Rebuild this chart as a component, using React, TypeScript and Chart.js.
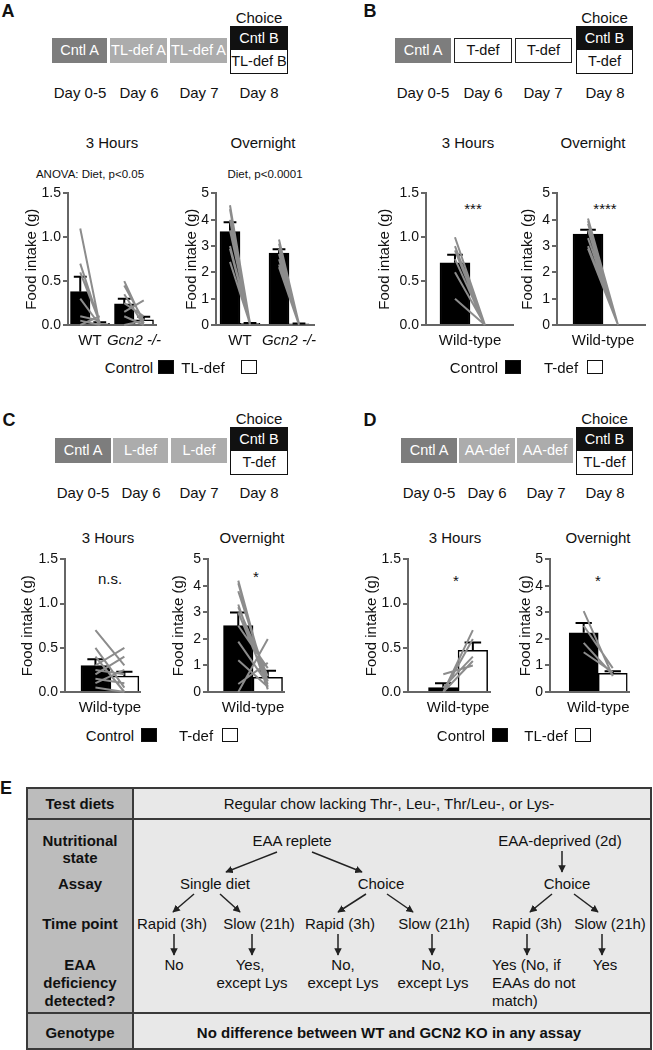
import React, { useEffect, useRef } from 'react';
import { Chart, registerables } from 'chart.js';

Chart.register(...registerables);
Chart.defaults.font.family = "'Liberation Sans', Arial, Helvetica, sans-serif";
Chart.defaults.color = '#111';

// ---------------- data ----------------
const GENOTYPES = ['WT', 'Gcn2 -/-'];
const WILD = ['Wild-type'];
const Y_TICKS_3H = [0, 0.5, 1.0, 1.5];
const Y_TICKS_ON = [0, 1, 2, 3, 4, 5];

// A — 3 hours (Control vs TL-def)
const A3_CTRL = [0.38, 0.24];
const A3_CTRL_SEM = [0.17, 0.06];
const A3_DEF = [0.02, 0.06];
const A3_DEF_SEM = [0.01, 0.035];
const A3_WT_CTRL = [1.1, 0.7, 0.6, 0.3, 0.1, 0.05, 0.0];
const A3_WT_DEF = [0.0, 0.02, 0.03, 0.0, 0.05, 0.0, 0.1];
const A3_KO_CTRL = [0.5, 0.45, 0.35, 0.25, 0.15, 0.1, 0.0];
const A3_KO_DEF = [0.02, 0.05, 0.0, 0.1, 0.28, 0.0, 0.05];

// A — overnight
const AON_CTRL = [3.55, 2.73];
const AON_CTRL_SEM = [0.35, 0.15];
const AON_DEF = [0.06, 0.04];
const AON_DEF_SEM = [0.02, 0.02];
const AON_WT_CTRL = [4.55, 4.4, 4.0, 3.6, 3.0, 2.9, 2.4];
const AON_WT_DEF = [0.05, 0.05, 0.02, 0.1, 0.05, 0.0, 0.05];
const AON_KO_CTRL = [3.25, 3.1, 2.9, 2.7, 2.5, 2.3, 2.2];
const AON_KO_DEF = [0.03, 0.05, 0.02, 0.0, 0.05, 0.03, 0.0];

// B — Control vs T-def
const B3_CTRL = [0.71];
const B3_CTRL_SEM = [0.09];
const B3_DEF = [0.0];
const B3_DEF_SEM = [0.0];
const B3_PAIR_CTRL = [1.0, 0.9, 0.85, 0.75, 0.6, 0.3];
const B3_PAIR_DEF = [0.0, 0.0, 0.0, 0.0, 0.0, 0.0];
const BON_CTRL = [3.45];
const BON_CTRL_SEM = [0.17];
const BON_DEF = [0.0];
const BON_DEF_SEM = [0.0];
const BON_PAIR_CTRL = [4.05, 3.95, 3.85, 3.6, 3.3, 3.0, 2.9];
const BON_PAIR_DEF = [0.0, 0.0, 0.0, 0.0, 0.0, 0.0, 0.0];

// C — L-def pre-fed, Control vs T-def
const C3_CTRL = [0.3];
const C3_CTRL_SEM = [0.07];
const C3_DEF = [0.18];
const C3_DEF_SEM = [0.05];
const C3_PAIR_CTRL = [0.7, 0.5, 0.4, 0.3, 0.25, 0.2, 0.15, 0.1, 0.05];
const C3_PAIR_DEF = [0.3, 0.05, 0.0, 0.5, 0.2, 0.4, 0.1, 0.25, 0.0];
const CON_CTRL = [2.5];
const CON_CTRL_SEM = [0.5];
const CON_DEF = [0.55];
const CON_DEF_SEM = [0.25];
const CON_PAIR_CTRL = [4.2, 4.1, 3.8, 3.3, 3.2, 3.0, 2.5, 1.9, 1.2, 0.3, 0.0];
const CON_PAIR_DEF = [0.1, 0.2, 0.4, 0.1, 0.6, 0.3, 0.9, 0.3, 0.2, 1.1, 2.0];

// D — AA-def pre-fed, Control vs TL-def
const D3_CTRL = [0.05];
const D3_CTRL_SEM = [0.05];
const D3_DEF = [0.47];
const D3_DEF_SEM = [0.09];
const D3_PAIR_CTRL = [0.0, 0.0, 0.2, 0.05, 0.0];
const D3_PAIR_DEF = [0.7, 0.6, 0.3, 0.4, 0.35];
const DON_CTRL = [2.23];
const DON_CTRL_SEM = [0.37];
const DON_DEF = [0.7];
const DON_DEF_SEM = [0.08];
const DON_PAIR_CTRL = [3.05, 2.5, 1.85, 1.5];
const DON_PAIR_DEF = [0.6, 0.9, 0.65, 0.75];

// ---------------- chart component ----------------
const PAD_T = 10;
const PAD_R = 30;
const X_H = 30;
const HALF = 0.25;

type Pair = { cat: number; ctrl: number[]; def: number[] };
type Spec = {
  cats: string[];
  italicIdx: number[];
  ctrl: number[];
  ctrlSem: number[];
  def: number[];
  defSem: number[];
  pairs: Pair[];
  yTicks: number[];
  dec: number;
  catX: number[];
  xMin: number;
  xMax: number;
  left: number;
  top: number;
  yW: number;
  plotW: number;
  plotH: number;
  cap: number;
};

const SPECS: Spec[] = [
  {
    cats: GENOTYPES, italicIdx: [1], ctrl: A3_CTRL, ctrlSem: A3_CTRL_SEM, def: A3_DEF, defSem: A3_DEF_SEM,
    pairs: [{ cat: 0, ctrl: A3_WT_CTRL, def: A3_WT_DEF }, { cat: 1, ctrl: A3_KO_CTRL, def: A3_KO_DEF }],
    yTicks: Y_TICKS_3H, dec: 1, catX: [0, 1.128], xMin: -0.564, xMax: 1.692,
    left: 19, top: 193, yW: 49, plotW: 88, plotH: 132, cap: 0.165,
  },
  {
    cats: GENOTYPES, italicIdx: [1], ctrl: AON_CTRL, ctrlSem: AON_CTRL_SEM, def: AON_DEF, defSem: AON_DEF_SEM,
    pairs: [{ cat: 0, ctrl: AON_WT_CTRL, def: AON_WT_DEF }, { cat: 1, ctrl: AON_KO_CTRL, def: AON_KO_DEF }],
    yTicks: Y_TICKS_ON, dec: 0, catX: [0, 1.225], xMin: -0.6, xMax: 1.85,
    left: 179, top: 193, yW: 37, plotW: 98, plotH: 132, cap: 0.16,
  },
  {
    cats: WILD, italicIdx: [], ctrl: B3_CTRL, ctrlSem: B3_CTRL_SEM, def: B3_DEF, defSem: B3_DEF_SEM,
    pairs: [{ cat: 0, ctrl: B3_PAIR_CTRL, def: B3_PAIR_DEF }],
    yTicks: Y_TICKS_3H, dec: 1, catX: [0], xMin: -0.733, xMax: 0.717,
    left: 372, top: 193, yW: 54, plotW: 87, plotH: 132, cap: 0.13,
  },
  {
    cats: WILD, italicIdx: [], ctrl: BON_CTRL, ctrlSem: BON_CTRL_SEM, def: BON_DEF, defSem: BON_DEF_SEM,
    pairs: [{ cat: 0, ctrl: BON_PAIR_CTRL, def: BON_PAIR_DEF }],
    yTicks: Y_TICKS_ON, dec: 0, catX: [0], xMin: -0.767, xMax: 0.7,
    left: 515, top: 193, yW: 42, plotW: 88, plotH: 132, cap: 0.13,
  },
  {
    cats: WILD, italicIdx: [], ctrl: C3_CTRL, ctrlSem: C3_CTRL_SEM, def: C3_DEF, defSem: C3_DEF_SEM,
    pairs: [{ cat: 0, ctrl: C3_PAIR_CTRL, def: C3_PAIR_DEF }],
    yTicks: Y_TICKS_3H, dec: 1, catX: [0], xMin: -0.776, xMax: 0.52,
    left: 15, top: 559, yW: 50, plotW: 75, plotH: 133, cap: 0.14,
  },
  {
    cats: WILD, italicIdx: [], ctrl: CON_CTRL, ctrlSem: CON_CTRL_SEM, def: CON_DEF, defSem: CON_DEF_SEM,
    pairs: [{ cat: 0, ctrl: CON_PAIR_CTRL, def: CON_PAIR_DEF }],
    yTicks: Y_TICKS_ON, dec: 0, catX: [0], xMin: -0.763, xMax: 0.525,
    left: 166, top: 559, yW: 42, plotW: 76, plotH: 133, cap: 0.14,
  },
  {
    cats: WILD, italicIdx: [], ctrl: D3_CTRL, ctrlSem: D3_CTRL_SEM, def: D3_DEF, defSem: D3_DEF_SEM,
    pairs: [{ cat: 0, ctrl: D3_PAIR_CTRL, def: D3_PAIR_DEF }],
    yTicks: Y_TICKS_3H, dec: 1, catX: [0], xMin: -0.847, xMax: 0.54,
    left: 359, top: 559, yW: 49, plotW: 82, plotH: 133, cap: 0.14,
  },
  {
    cats: WILD, italicIdx: [], ctrl: DON_CTRL, ctrlSem: DON_CTRL_SEM, def: DON_DEF, defSem: DON_DEF_SEM,
    pairs: [{ cat: 0, ctrl: DON_PAIR_CTRL, def: DON_PAIR_DEF }],
    yTicks: Y_TICKS_ON, dec: 0, catX: [0], xMin: -0.83, xMax: 0.53,
    left: 513, top: 559, yW: 37, plotW: 79, plotH: 133, cap: 0.14,
  },
];

function MiniChart({ spec }: { spec: Spec }) {
  const ref = useRef<HTMLCanvasElement>(null);
  const W = spec.yW + spec.plotW + PAD_R;
  const H = PAD_T + spec.plotH + X_H;

  useEffect(() => {
    const ctrlBars = spec.cats.map((_, i) => ({ x: spec.catX[i] - HALF, y: spec.ctrl[i] }));
    const defBars = spec.cats.map((_, i) => ({ x: spec.catX[i] + HALF, y: spec.def[i] }));

    const errPts: any[] = [];
    const addErr = (cx: number, m: number, s: number) => {
      if (!(s > 0)) return;
      errPts.push({ x: cx, y: m }, { x: cx, y: m + s }, { x: cx, y: null });
      errPts.push({ x: cx - spec.cap, y: m + s }, { x: cx + spec.cap, y: m + s }, { x: cx, y: null });
    };
    spec.cats.forEach((_, i) => {
      addErr(spec.catX[i] - HALF, spec.ctrl[i], spec.ctrlSem[i]);
      addErr(spec.catX[i] + HALF, spec.def[i], spec.defSem[i]);
    });

    const pairPts: any[] = [];
    spec.pairs.forEach((p) => {
      p.ctrl.forEach((c, k) => {
        pairPts.push(
          { x: spec.catX[p.cat] - HALF, y: c },
          { x: spec.catX[p.cat] + HALF, y: p.def[k] },
          { x: spec.catX[p.cat], y: null },
        );
      });
    });

    const chart = new Chart(ref.current as HTMLCanvasElement, {
      type: 'bar',
      data: {
        datasets: [
          {
            type: 'line', data: pairPts, borderColor: '#8c8c8c', borderWidth: 2, pointRadius: 0,
            fill: false, tension: 0, spanGaps: false, clip: false, order: 1,
          } as any,
          {
            type: 'line', data: errPts, borderColor: '#000', borderWidth: 2, pointRadius: 0,
            fill: false, tension: 0, spanGaps: false, clip: false, order: 2,
          } as any,
          {
            type: 'bar', data: ctrlBars, backgroundColor: '#000', borderColor: '#000', borderWidth: 1.5,
            grouped: false, barPercentage: 1, categoryPercentage: 1, order: 3,
          } as any,
          {
            type: 'bar', data: defBars, backgroundColor: '#fff', borderColor: '#000', borderWidth: 1.5,
            grouped: false, barPercentage: 1, categoryPercentage: 1, order: 3,
          } as any,
        ],
      },
      options: {
        responsive: false,
        animation: false,
        devicePixelRatio: 1,
        events: [],
        layout: { padding: { top: PAD_T, right: PAD_R, bottom: 0, left: 0 } },
        plugins: { legend: { display: false }, tooltip: { enabled: false }, title: { display: false } },
        scales: {
          x: {
            type: 'linear',
            min: spec.xMin,
            max: spec.xMax,
            offset: false,
            afterBuildTicks: (s: any) => {
              s.ticks = spec.catX.map((v) => ({ value: v }));
            },
            afterFit: (s: any) => {
              s.height = X_H;
            },
            ticks: {
              autoSkip: false,
              maxRotation: 0,
              minRotation: 0,
              padding: 7,
              color: '#111',
              font: (ctx: any) => ({
                size: 15,
                style: spec.italicIdx.includes(ctx.index) ? 'italic' : 'normal',
              }),
              callback: (_v: any, i: number) => spec.cats[i],
            },
            grid: { display: false, drawTicks: false },
            border: { display: true, color: '#666', width: 2 },
          } as any,
          y: {
            type: 'linear',
            min: 0,
            max: spec.yTicks[spec.yTicks.length - 1],
            afterBuildTicks: (s: any) => {
              s.ticks = spec.yTicks.map((v) => ({ value: v }));
            },
            afterFit: (s: any) => {
              s.width = spec.yW;
            },
            ticks: {
              padding: 2,
              color: '#111',
              font: { size: 14 },
              callback: (v: any) => Number(v).toFixed(spec.dec),
            },
            grid: { display: true, drawOnChartArea: false, drawTicks: true, tickLength: 5, color: '#666', lineWidth: 2 },
            border: { display: true, color: '#666', width: 2 },
            title: { display: true, text: 'Food intake (g)', color: '#111', font: { size: 15 }, padding: { top: 4, bottom: 0 } },
          } as any,
        },
      },
    });
    return () => chart.destroy();
  }, [spec]);

  return (
    <canvas
      ref={ref}
      width={W}
      height={H}
      style={{ position: 'absolute', left: spec.left, top: spec.top - PAD_T, width: W, height: H }}
    />
  );
}

// ---------------- html helpers ----------------
function T({ x, y, size = 15, bold = false, italic = false, align = 'center', color = '#111', children }: any) {
  const tx = align === 'center' ? '-50%' : align === 'left' ? '0' : '-100%';
  return (
    <div
      style={{
        position: 'absolute', left: x, top: y, transform: `translate(${tx}, -50%)`, fontSize: size,
        fontWeight: bold ? 700 : 400, fontStyle: italic ? 'italic' : 'normal', color, whiteSpace: 'nowrap', lineHeight: 1,
      }}
    >
      {children}
    </div>
  );
}

function Box({ x, y, w, h, kind, text }: any) {
  const bg = kind === 'dark' ? '#7d7d7d' : kind === 'light' ? '#acacac' : '#fff';
  const fg = kind === 'white' ? '#111' : '#fff';
  return (
    <div
      style={{
        position: 'absolute', left: x, top: y, width: w, height: h, background: bg, color: fg,
        border: kind === 'white' ? '1.5px solid #222' : 'none', boxSizing: 'border-box', display: 'flex',
        alignItems: 'center', justifyContent: 'center', fontSize: 14.5, whiteSpace: 'nowrap', lineHeight: 1,
      }}
    >
      {text}
    </div>
  );
}

function ChoiceBox({ x, y, w, h, lower }: any) {
  const half: any = { height: '50%', display: 'flex', alignItems: 'center', justifyContent: 'center', fontSize: 14.5, lineHeight: 1, whiteSpace: 'nowrap' };
  return (
    <>
      <T x={x + w / 2} y={y - 9}>Choice</T>
      <div style={{ position: 'absolute', left: x, top: y, width: w, height: h, border: '1.5px solid #111', boxSizing: 'border-box', background: '#fff' }}>
        <div style={{ ...half, background: '#111', color: '#fff' }}>Cntl B</div>
        <div style={{ ...half, color: '#111' }}>{lower}</div>
      </div>
    </>
  );
}

function Sq({ x, y, filled }: any) {
  return (
    <div
      style={{
        position: 'absolute', left: x, top: y - 7, width: 16, height: 14, boxSizing: 'border-box',
        background: filled ? '#000' : '#fff', border: '1.5px solid #111',
      }}
    />
  );
}

function Days({ y, xs }: any) {
  const labels = ['Day 0-5', 'Day 6', 'Day 7', 'Day 8'];
  return <>{xs.map((x: number, i: number) => <T key={i} x={x} y={y}>{labels[i]}</T>)}</>;
}

function Arrow({ x1, y1, x2, y2 }: any) {
  return <line x1={x1} y1={y1} x2={x2} y2={y2} stroke="#222" strokeWidth={1.5} markerEnd="url(#ah)" />;
}

export default function App() {
  return (
    <div
      style={{
        position: 'absolute', left: 0, top: 0, width: 653, height: 1050, background: '#fff', overflow: 'hidden',
        fontFamily: "'Liberation Sans', Arial, Helvetica, sans-serif", color: '#111',
      }}
    >
      {/* Panel labels */}
      <T x={8} y={11} size={18} bold>A</T>
      <T x={370} y={11} size={18} bold>B</T>
      <T x={9} y={420} size={18} bold>C</T>
      <T x={370} y={420} size={18} bold>D</T>
      <T x={6} y={788} size={18} bold>E</T>

      {/* A diagram */}
      <Box x={52} y={38} w={55} h={25} kind="dark" text="Cntl A" />
      <Box x={110} y={38} w={57} h={25} kind="light" text="TL-def A" />
      <Box x={170} y={38} w={57} h={25} kind="light" text="TL-def A" />
      <ChoiceBox x={230} y={26} w={58} h={48} lower="TL-def B" />
      <Days y={92} xs={[80, 139, 199, 259]} />

      {/* B diagram */}
      <Box x={395} y={38} w={56} h={25} kind="dark" text="Cntl A" />
      <Box x={454} y={38} w={58} h={25} kind="white" text="T-def" />
      <Box x={515} y={38} w={57} h={25} kind="white" text="T-def" />
      <ChoiceBox x={576} y={26} w={57} h={48} lower="T-def" />
      <Days y={92} xs={[423, 483, 543, 605]} />

      {/* C diagram */}
      <Box x={55} y={438} w={56} h={25} kind="dark" text="Cntl A" />
      <Box x={113} y={438} w={55} h={25} kind="light" text="L-def" />
      <Box x={171} y={438} w={56} h={25} kind="light" text="L-def" />
      <ChoiceBox x={230} y={427} w={58} h={48} lower="T-def" />
      <Days y={492} xs={[83, 141, 199, 259]} />

      {/* D diagram */}
      <Box x={401} y={438} w={56} h={25} kind="dark" text="Cntl A" />
      <Box x={459} y={438} w={56} h={25} kind="light" text="AA-def" />
      <Box x={517} y={438} w={56} h={25} kind="light" text="AA-def" />
      <ChoiceBox x={576} y={427} w={57} h={48} lower="TL-def" />
      <Days y={492} xs={[429, 487, 546, 605]} />

      {/* chart titles and annotations */}
      <T x={112} y={142}>3 Hours</T>
      <T x={263} y={142}>Overnight</T>
      <T x={90} y={175} size={11.5}>ANOVA: Diet, p&lt;0.05</T>
      <T x={265} y={175} size={11.5}>Diet, p&lt;0.0001</T>
      <T x={468} y={142}>3 Hours</T>
      <T x={593} y={142}>Overnight</T>
      <T x={473} y={208}>***</T>
      <T x={605} y={208}>****</T>
      <T x={108} y={537}>3 Hours</T>
      <T x={252} y={537}>Overnight</T>
      <T x={110} y={578}>n.s.</T>
      <T x={256} y={576}>*</T>
      <T x={455} y={537}>3 Hours</T>
      <T x={598} y={537}>Overnight</T>
      <T x={456} y={580}>*</T>
      <T x={598} y={580}>*</T>

      {/* charts */}
      {SPECS.map((s, i) => <MiniChart key={i} spec={s} />)}

      {/* legends */}
      <T x={129} y={367}>Control</T>
      <Sq x={158} y={367} filled />
      <T x={203} y={367}>TL-def</T>
      <Sq x={241} y={367} />
      <T x={474} y={367}>Control</T>
      <Sq x={505} y={367} filled />
      <T x={561} y={367}>T-def</T>
      <Sq x={587} y={367} />
      <T x={110} y={735}>Control</T>
      <Sq x={141} y={735} filled />
      <T x={196} y={735}>T-def</T>
      <Sq x={222} y={735} />
      <T x={461} y={735}>Control</T>
      <Sq x={492} y={735} filled />
      <T x={546} y={735}>TL-def</T>
      <Sq x={575} y={735} />

      {/* Panel E table */}
      <div style={{ position: 'absolute', left: 27, top: 788, width: 624, height: 261, background: '#e8e8e8' }} />
      <div style={{ position: 'absolute', left: 27, top: 788, width: 106, height: 261, background: '#bcbcbc' }} />
      <div style={{ position: 'absolute', left: 26, top: 787, width: 626, height: 263, border: '2px solid #3a3a3a', boxSizing: 'border-box' }} />
      <div style={{ position: 'absolute', left: 132, top: 788, width: 2, height: 261, background: '#3a3a3a' }} />
      <div style={{ position: 'absolute', left: 27, top: 818, width: 624, height: 2, background: '#3a3a3a' }} />
      <div style={{ position: 'absolute', left: 27, top: 1012, width: 624, height: 2, background: '#3a3a3a' }} />

      <T x={80} y={803} bold>Test diets</T>
      <T x={80} y={840} bold>Nutritional</T>
      <T x={80} y={857} bold>state</T>
      <T x={80} y={883} bold>Assay</T>
      <T x={80} y={923} bold>Time point</T>
      <T x={80} y={964} bold>EAA</T>
      <T x={80} y={982} bold>deficiency</T>
      <T x={80} y={1000} bold>detected?</T>
      <T x={80} y={1032} bold>Genotype</T>

      <T x={389} y={803}>Regular chow lacking Thr-, Leu-, Thr/Leu-, or Lys-</T>
      <T x={292} y={840}>EAA replete</T>
      <T x={560} y={840}>EAA-deprived (2d)</T>
      <T x={215} y={883}>Single diet</T>
      <T x={381} y={883}>Choice</T>
      <T x={567} y={883}>Choice</T>
      <T x={172} y={923}>Rapid (3h)</T>
      <T x={259} y={923}>Slow (21h)</T>
      <T x={340} y={923}>Rapid (3h)</T>
      <T x={434} y={923}>Slow (21h)</T>
      <T x={527} y={923}>Rapid (3h)</T>
      <T x={610} y={923}>Slow (21h)</T>
      <T x={174} y={964}>No</T>
      <T x={250} y={964}>Yes,</T>
      <T x={252} y={982}>except Lys</T>
      <T x={343} y={964}>No,</T>
      <T x={343} y={982}>except Lys</T>
      <T x={433} y={964}>No,</T>
      <T x={433} y={982}>except Lys</T>
      <T x={492} y={964} align="left">Yes (No, if</T>
      <T x={492} y={982} align="left">EAAs do not</T>
      <T x={492} y={1000} align="left">match)</T>
      <T x={605} y={964}>Yes</T>
      <T x={389} y={1032} bold>No difference between WT and GCN2 KO in any assay</T>

      <svg width={653} height={1050} style={{ position: 'absolute', left: 0, top: 0, pointerEvents: 'none' }}>
        <defs>
          <marker id="ah" viewBox="0 0 10 10" refX="9" refY="5" markerWidth="5" markerHeight="5" orient="auto">
            <path d="M0,0 L10,5 L0,10 z" fill="#222" />
          </marker>
        </defs>
        <Arrow x1={277} y1={852} x2={226} y2={872} />
        <Arrow x1={312} y1={852} x2={362} y2={872} />
        <Arrow x1={562} y1={851} x2={562} y2={872} />
        <Arrow x1={194} y1={894} x2={173} y2={912} />
        <Arrow x1={220} y1={894} x2={240} y2={912} />
        <Arrow x1={366} y1={894} x2={338} y2={912} />
        <Arrow x1={387} y1={894} x2={413} y2={912} />
        <Arrow x1={552} y1={894} x2={530} y2={912} />
        <Arrow x1={574} y1={894} x2={598} y2={912} />
        <Arrow x1={174} y1={934} x2={174} y2={955} />
        <Arrow x1={252} y1={934} x2={252} y2={955} />
        <Arrow x1={338} y1={934} x2={338} y2={955} />
        <Arrow x1={432} y1={934} x2={432} y2={955} />
        <Arrow x1={527} y1={934} x2={527} y2={955} />
        <Arrow x1={602} y1={934} x2={602} y2={955} />
      </svg>
    </div>
  );
}
